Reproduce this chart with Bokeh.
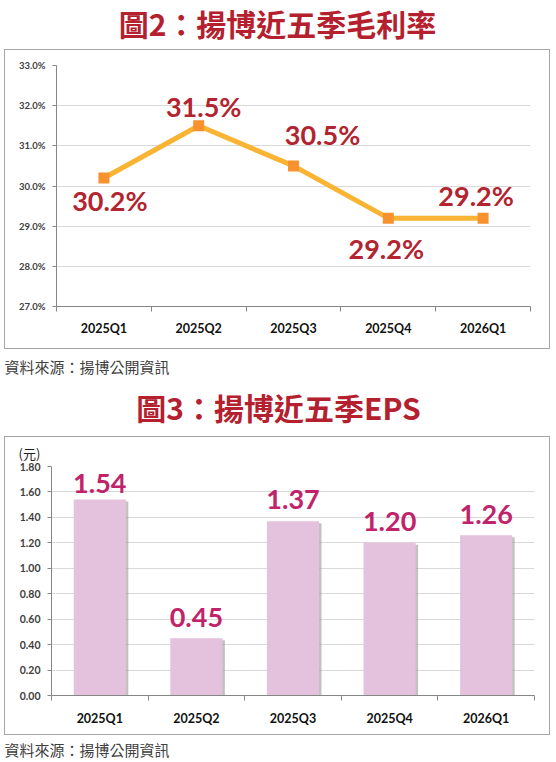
from bokeh.plotting import figure
from bokeh.models import Range1d, FixedTicker, PrintfTickFormatter, ColumnDataSource, Title
from bokeh.layouts import column
from bokeh.embed import file_html
from bokeh.resources import INLINE
from bokeh.core.properties import value

# ---------------- data ----------------
quarters = ["2025Q1", "2025Q2", "2025Q3", "2025Q4", "2026Q1"]
gross_margin = [30.2, 31.5, 30.5, 29.2, 29.2]
gm_labels = ["30.2%", "31.5%", "30.5%", "29.2%", "29.2%"]
gm_ticks = [27, 28, 29, 30, 31, 32, 33]
eps = [1.54, 0.45, 1.37, 1.20, 1.26]
eps_labels = ["1.54", "0.45", "1.37", "1.20", "1.26"]
eps_ticks = [0.0, 0.2, 0.4, 0.6, 0.8, 1.0, 1.2, 1.4, 1.6, 1.8]

title1 = "圖2：揚博近五季毛利率"
title2 = "圖3：揚博近五季EPS"
source_note = "資料來源：揚博公開資訊"
eps_unit = "(元)"

# label placement (pixels) – style only
gm_dx = [6, 5, 29, -2, -7]
gm_dy = [23, -19, -31, 30, -23]
eps_dy = [-16, -21, -22, -21, -21]

PAGE_W = 556
CW = 546
CJK = "Noto Sans CJK TC"
NUM = "Lato"
TITLE_RED = "#b5202e"
AXIS_GRAY = "#868686"
GRID_GRAY = "#d9d9d9"
BOX = {"border": "1px solid #a6a6a6", "box-sizing": "border-box", "margin-left": "4px"}


def no_align(p):
    try:
        p.frame_align = False
    except Exception:
        pass
    p.title.visible = False


def text_fig(h, items):
    p = figure(width=PAGE_W, height=h, x_range=Range1d(0, PAGE_W), y_range=Range1d(h, 0),
               x_axis_type=None, y_axis_type=None, toolbar_location=None,
               output_backend="svg", min_border_left=0, min_border_right=0,
               min_border_top=0, min_border_bottom=0)
    no_align(p)
    p.outline_line_color = None
    for txt, x, y, size, color, style, align in items:
        p.text(x=[x], y=[y], text=[txt], text_font=value(CJK), text_font_size=size,
               text_color=color, text_font_style=style, text_align=align,
               text_baseline="middle")
    return p


def style_axes(p, ticks, fmt, ysize, xs, xstand):
    n = len(quarters)
    no_align(p)
    xa = p.xaxis[0]
    xa.ticker = FixedTicker(ticks=xs, minor_ticks=list(range(n + 1)))
    xa.major_label_overrides = {x: q for x, q in zip(xs, quarters)}
    xa.major_tick_line_color = None
    xa.minor_tick_line_color = AXIS_GRAY
    xa.minor_tick_out = 5
    xa.minor_tick_in = 0
    xa.axis_line_color = AXIS_GRAY
    xa.major_label_text_font = NUM
    xa.major_label_text_font_style = "bold"
    xa.major_label_text_font_size = "12.5px"
    xa.major_label_text_color = "#111111"
    xa.major_label_standoff = xstand
    ya = p.yaxis[0]
    ya.ticker = FixedTicker(ticks=ticks)
    ya.formatter = PrintfTickFormatter(format=fmt)
    ya.major_tick_out = 4
    ya.major_tick_in = 0
    ya.major_tick_line_color = AXIS_GRAY
    ya.minor_tick_line_color = None
    ya.axis_line_color = AXIS_GRAY
    ya.major_label_text_font = NUM
    ya.major_label_text_font_style = "bold"
    ya.major_label_text_font_size = ysize
    ya.major_label_text_color = "#404040"
    ya.major_label_standoff = 7
    p.xgrid.visible = False
    p.ygrid.grid_line_color = GRID_GRAY
    p.outline_line_color = None
    p.styles = BOX


xs = [i + 0.5 for i in range(len(quarters))]

# ---------------- title 1 ----------------
t1 = text_fig(49, [(title1, 277, 22, "30px", TITLE_RED, "bold", "center")])

# ---------------- chart 1: gross margin ----------------
p1 = figure(width=CW, height=300, x_range=Range1d(0, len(quarters)),
            y_range=Range1d(gm_ticks[0], gm_ticks[-1]), toolbar_location=None,
            output_backend="svg", min_border_left=51, min_border_right=21,
            min_border_top=15, min_border_bottom=44)
style_axes(p1, gm_ticks, "%.1f%%", "9.5px", xs, 8)
src1 = ColumnDataSource(dict(x=xs, y=gross_margin, label=gm_labels, dx=gm_dx, dy=gm_dy))
p1.line("x", "y", source=src1, line_width=5, line_color="#f8b432")
p1.scatter("x", "y", source=src1, marker="square", size=11,
           fill_color="#f7922f", line_color=None)
p1.text("x", "y", text="label", x_offset="dx", y_offset="dy", source=src1,
        text_font=value(NUM), text_font_style="bold", text_font_size="27px",
        text_color="#b2242f", text_align="center", text_baseline="middle")

# ---------------- source + title 2 ----------------
mid = text_fig(87, [(source_note, 4, 17, "15px", "#404040", "normal", "left"),
                    (title2, 278, 57, "30px", TITLE_RED, "bold", "center")])

# ---------------- chart 2: EPS ----------------
p2 = figure(width=CW, height=299, x_range=Range1d(0, len(quarters)),
            y_range=Range1d(eps_ticks[0], eps_ticks[-1]), toolbar_location=None,
            output_backend="svg", min_border_left=46, min_border_right=17,
            min_border_top=29, min_border_bottom=41)
style_axes(p2, eps_ticks, "%.2f", "10.5px", xs, 9)
src2 = ColumnDataSource(dict(x=xs, top=eps, label=eps_labels, dy=eps_dy,
                             sx=[x + 0.025 for x in xs], stop=[v - 0.016 for v in eps]))
p2.vbar(x="sx", top="stop", width=0.54, source=src2, fill_color="#9a9a9a",
        fill_alpha=0.6, line_color=None)
p2.vbar(x="x", top="top", width=0.54, source=src2, fill_color="#e4c1dc", line_color=None)
p2.text("x", "top", text="label", y_offset="dy", source=src2,
        text_font=value(NUM), text_font_style="bold", text_font_size="27px",
        text_color="#c0236a", text_align="center", text_baseline="middle")
p2.add_layout(Title(text=eps_unit, align="left", offset=-33, standoff=7,
                    text_font=CJK, text_font_size="13px", text_font_style="normal",
                    text_color="#222222"), "above")

# ---------------- source ----------------
bot = text_fig(27, [(source_note, 4, 14, "15px", "#404040", "normal", "left")])

layout = column(t1, p1, mid, p2, bot, spacing=0)
open("out.html", "w").write(file_html(layout, INLINE))
